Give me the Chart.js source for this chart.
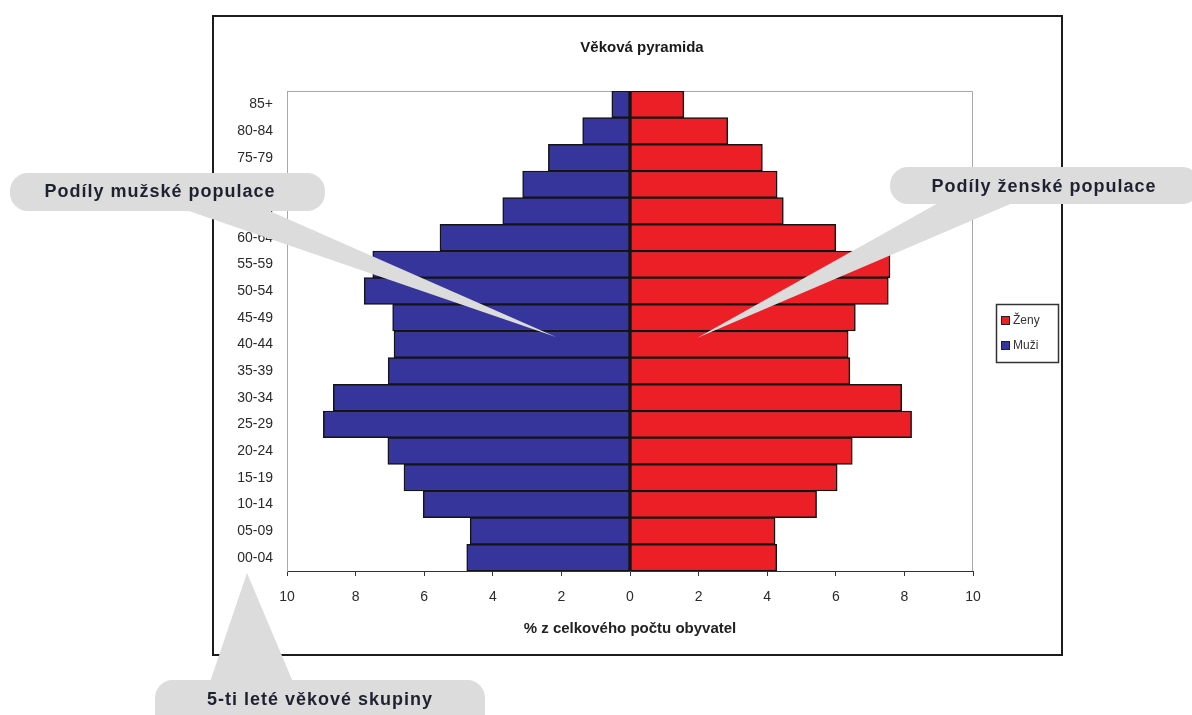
<!DOCTYPE html>
<html><head><meta charset="utf-8">
<script src="https://cdn.jsdelivr.net/npm/chart.js@4/dist/chart.umd.min.js"></script>
<style>html,body{margin:0;padding:0;background:#fff;}#wrap{width:1192px;height:715px;}</style>
</head><body><div id="wrap"><canvas id="c" width="1192" height="715"></canvas></div>
<script>
// ---- data ----
const categories = ['85+','80-84','75-79','70-74','65-69','60-64','55-59','50-54','45-49','40-44','35-39','30-34','25-29','20-24','15-19','10-14','05-09','00-04'];
const maleShare   = [0.53,1.38,2.38,3.13,3.71,5.54,7.50,7.75,6.92,6.88,7.05,8.65,8.94,7.06,6.59,6.03,4.66,4.76];
const femaleShare = [1.57,2.85,3.86,4.29,4.47,6.00,7.58,7.53,6.57,6.36,6.41,7.92,8.21,6.48,6.04,5.44,4.23,4.28];
const xTickValues = [-10,-8,-6,-4,-2,0,2,4,6,8,10];
const seriesNames = ['Ženy','Muži'];
const chartTitle = 'Věková pyramida';
const xAxisTitle = '% z celkového počtu obyvatel';
const calloutTexts = ['Podíly mužské populace','Podíly ženské populace','5-ti leté věkové skupiny'];

// ---- styling ----
const FONT = "'Liberation Sans', Arial, sans-serif";
const RED = '#ec1f26', BLUE = '#35359b', EDGE = '#141414';

const decor = {
  id: 'decor',
  beforeDatasetsDraw(chart) {
    const {ctx, chartArea: a} = chart;
    ctx.save();
    ctx.strokeStyle = '#a8a8a8';
    ctx.lineWidth = 1;
    ctx.beginPath();
    ctx.moveTo(a.left + 0.5, a.bottom);
    ctx.lineTo(a.left + 0.5, a.top + 0.5);
    ctx.lineTo(a.right - 0.5, a.top + 0.5);
    ctx.lineTo(a.right - 0.5, a.bottom);
    ctx.stroke();
    ctx.restore();
  },
  afterDatasetsDraw(chart) {
    const {ctx, chartArea: a, scales} = chart;
    const x0 = scales.x.getPixelForValue(0);
    ctx.save();
    ctx.strokeStyle = EDGE;
    ctx.lineWidth = 2;
    ctx.beginPath();
    ctx.moveTo(x0, a.top);
    ctx.lineTo(x0, a.bottom);
    ctx.stroke();
    ctx.restore();
  },
  afterDraw(chart) {
    const {ctx} = chart;
    ctx.save();
    // outer frame
    ctx.strokeStyle = '#1c1c1c';
    ctx.lineWidth = 2;
    ctx.strokeRect(213, 16, 849, 639);
    // title
    ctx.fillStyle = '#1a1a1a';
    ctx.font = 'bold 15px ' + FONT;
    ctx.textAlign = 'center';
    ctx.textBaseline = 'middle';
    ctx.fillText(chartTitle, 642, 48);
    // legend
    ctx.strokeStyle = '#333';
    ctx.lineWidth = 1.5;
    ctx.strokeRect(996.5, 304.5, 62, 58);
    ctx.font = '12px ' + FONT;
    ctx.textAlign = 'left';
    chart.data.datasets.forEach((ds, i) => {
      const y = 320 + i * 25;
      ctx.fillStyle = ds.backgroundColor;
      ctx.fillRect(1001, y - 4, 9, 9);
      ctx.lineWidth = 1;
      ctx.strokeStyle = '#222';
      ctx.strokeRect(1001.5, y - 3.5, 8, 8);
      ctx.fillStyle = '#333';
      ctx.fillText(ds.label, 1013, y + 1);
    });
    // callouts
    const fill = '#dcdcdc';
    function bubble(x, y, w, h, r, tri) {
      ctx.fillStyle = fill;
      ctx.beginPath();
      ctx.roundRect(x, y, w, h, r);
      ctx.fill();
      ctx.beginPath();
      ctx.moveTo(tri[0][0], tri[0][1]);
      ctx.lineTo(tri[1][0], tri[1][1]);
      ctx.lineTo(tri[2][0], tri[2][1]);
      ctx.closePath();
      ctx.fill();
    }
    bubble(10, 173, 315, 38, 18, [[183, 209], [265, 209], [556, 337]]);
    bubble(890, 167, 310, 37, 18, [[940, 202], [1015, 202], [697, 338]]);
    bubble(155, 680, 330, 60, 18, [[210, 682], [293, 682], [247, 573]]);
    ctx.fillStyle = '#1e2230';
    ctx.font = 'bold 18px ' + FONT;
    ctx.textAlign = 'center';
    ctx.textBaseline = 'middle';
    try { ctx.letterSpacing = '1px'; } catch (e) {}
    ctx.fillText(calloutTexts[0], 160, 192);
    ctx.fillText(calloutTexts[1], 1044, 187);
    ctx.fillText(calloutTexts[2], 320, 700);
    ctx.restore();
  }
};

new Chart(document.getElementById('c'), {
  type: 'bar',
  data: {
    labels: categories,
    datasets: [
      {label: seriesNames[0], data: femaleShare, backgroundColor: RED, borderColor: EDGE, borderWidth: 1.5, borderSkipped: false},
      {label: seriesNames[1], data: maleShare.map(v => -v), backgroundColor: BLUE, borderColor: EDGE, borderWidth: 1.5, borderSkipped: false}
    ]
  },
  options: {
    responsive: false,
    animation: false,
    indexAxis: 'y',
    layout: {padding: {left: 213, top: 91, right: 219, bottom: 60}},
    datasets: {bar: {categoryPercentage: 1, barPercentage: 1}},
    plugins: {legend: {display: false}, title: {display: false}, tooltip: {enabled: false}},
    scales: {
      x: {
        min: -10, max: 10, stacked: true,
        afterBuildTicks: s => { s.ticks = xTickValues.map(v => ({value: v})); },
        ticks: {callback: v => Math.abs(v), font: {family: FONT, size: 14}, color: '#2a2a2a', padding: 13, maxRotation: 0},
        grid: {drawOnChartArea: false, drawTicks: true, tickLength: 5, color: '#333'},
        border: {color: '#333', width: 1},
        title: {display: true, text: xAxisTitle, font: {family: FONT, size: 15, weight: 'bold'}, color: '#222', padding: {top: 0, bottom: 17}},
        afterFit: s => { s.height = 84; }
      },
      y: {
        stacked: true,
        ticks: {font: {family: FONT, size: 14}, color: '#2a2a2a', padding: 14},
        grid: {display: false, drawTicks: false},
        border: {color: '#a8a8a8', width: 1},
        afterFit: s => { s.width = 74; }
      }
    }
  },
  plugins: [decor]
});
</script>
</body></html>
